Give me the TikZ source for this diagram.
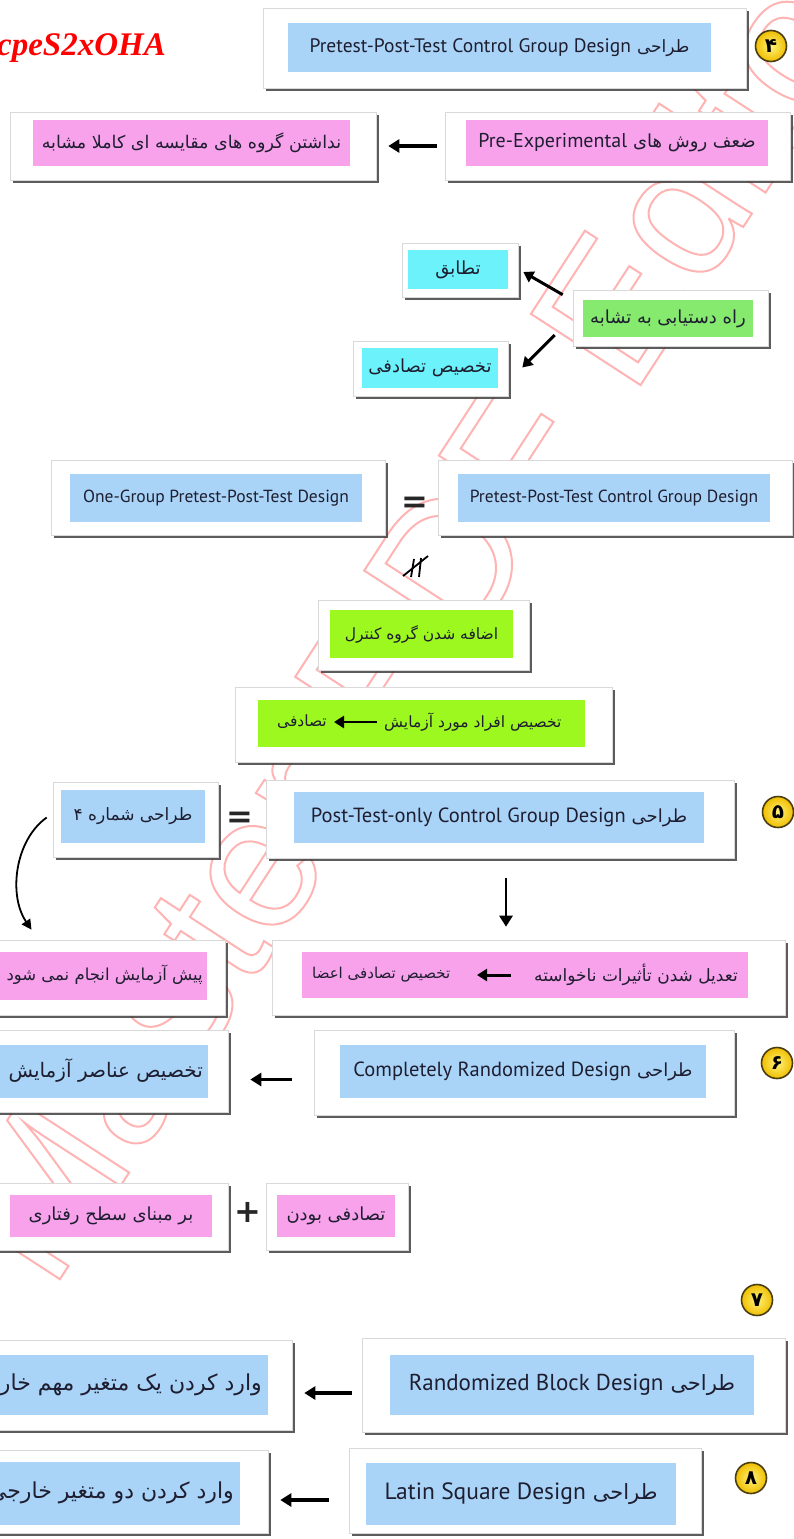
\documentclass[tikz,border=0pt]{standalone}
\usepackage{fontspec}
\usetikzlibrary{fit,shadows,arrows.meta,calc}
\TeXXeTstate=1
\setmainfont{PT Sans}
\newfontfamily\fa[Script=Arabic]{DejaVu Sans}
\newfontfamily\lat{PT Sans}
\newfontfamily\redserif{Liberation Serif}
\newfontfamily\wmfont{Liberation Sans}
\newfontfamily\symf{DejaVu Sans}
\newcommand\fsz[1]{\fontsize{#1}{#1}\selectfont}
\newcommand\outlinetext[1]{\special{pdf:literal direct 1 Tr 2 w}#1\special{pdf:literal direct 0 Tr}}
\definecolor{cblue}{HTML}{A9D4F8}
\definecolor{cpink}{HTML}{F8A2EC}
\definecolor{ccyan}{HTML}{6BF2FA}
\definecolor{cgreen}{HTML}{86EA6E}
\definecolor{clime}{HTML}{9CF81E}
\definecolor{cballin}{HTML}{FFF27A}
\definecolor{cballout}{HTML}{F0BE00}
\definecolor{cballedge}{HTML}{4A3E14}
\definecolor{ctext}{HTML}{1E1E30}
\definecolor{cwm}{HTML}{FFB4B4}
\tikzset{
  card/.style={fill=white, draw=black!15, line width=0.6pt, inner sep=0pt,
    drop shadow={shadow xshift=2.5pt, shadow yshift=-3pt, fill=black!75, opacity=0.85}},
  inbox/.style={draw=none, inner sep=0pt},
  lab/.style={inner sep=0pt, text=ctext},
  bigarrow/.style={line width=3.4pt, -{Triangle[length=11pt,width=13pt]}},
  midarrow/.style={line width=2.8pt, -{Triangle[length=10pt,width=12pt]}},
  thinarrow/.style={line width=1.8pt, -{Triangle[length=10pt,width=10pt]}},
  ball/.style={circle, minimum size=31pt, inner sep=0pt, draw=cballedge, line width=1.6pt,
    inner color=cballin, outer color=cballout, font=\symf\bfseries\fsz{20}, text=black},
  sign/.style={inner sep=0pt, font=\symf\bfseries\fsz{32}, text=black!85}
}
\begin{document}
\begin{tikzpicture}[x=1pt,y=-1pt]
\useasboundingbox (0,0) rectangle (794,1539);
\fill[white] (0,0) rectangle (794,1539);

% watermark (outline letters)
\node[rotate=57, inner sep=0pt, text=cwm, font=\wmfont\fsz{190}] (wm) at (420,600) {\outlinetext{Master PDF Editor}};

% red text
\node[anchor=east, inner sep=0pt, text=red, font=\redserif\bfseries\itshape\fsz{33}] (redtxt) at (166,48) {NcpeS2xOHA};

% ---- 4
\node[card, fit={(263,8) (746,88)}] (c1) {};
\node[inbox, fill=cblue, fit={(288,23) (711,72)}] (b1) {};
\node[lab] (t1) at (b1.center) {{\lat\fsz{19.5}Pretest-Post-Test Control Group Design}\hspace{6pt}{\fa\fsz{17}\beginR طراحی\endR}};
\node[ball] (n4) at (771,46) {۴};

\node[card, fit={(445,112) (790,180)}] (c2r) {};
\node[inbox, fill=cpink, fit={(466,120) (768,166)}] (b2r) {};
\node[lab] (t2r) at (b2r.center) {{\lat\fsz{20}Pre-Experimental}\hspace{6pt}{\fa\fsz{18}\beginR ضعف روش های\endR}};
\node[card, fit={(10,112) (376,180)}] (c2l) {};
\node[inbox, fill=cpink, fit={(33,120) (350,166)}] (b2l) {};
\node[lab] (t2l) at (b2l.center) {\fa\fsz{17.5}\beginR نداشتن گروه های مقایسه ای کاملا مشابه\endR};
\coordinate (a2) at ($(c2r.west)+(-8,0)$);
\draw[bigarrow, shorten >=12pt] (a2) -- (a2 -| c2l.east);

% ---- similarity
\node[card, fit={(402,243) (518,297)}] (ctab) {};
\node[inbox, fill=ccyan, fit={(408,250) (508,289)}] (btab) {};
\node[lab] (ttab) at (btab.center) {\fa\fsz{18}\beginR تطابق\endR};
\node[card, fit={(573,290) (768,346)}] (crah) {};
\node[inbox, fill=cgreen, fit={(583,300) (753,337)}] (brah) {};
\node[lab] (trah) at (brah.center) {\fa\fsz{18}\beginR راه دستیابی به تشابه\endR};
\node[card, fit={(353,341) (508,396)}] (ctak) {};
\node[inbox, fill=ccyan, fit={(362,348) (498,388)}] (btak) {};
\node[lab] (ttak) at (btak.center) {\fa\fsz{18}\beginR تخصیص تصادفی\endR};
\draw[midarrow, line width=3pt] ($(crah.north west)+(-10,5)$) -- ($(ctab.east)+(5,2)$);
\draw[midarrow, line width=3pt] ($(crah.west)+(-18,17)$) -- ($(ctak.east)+(14,-1)$);

% ---- equal row
\node[card, fit={(51,460) (385,535)}] (cone) {};
\node[inbox, fill=cblue, fit={(70,474) (362,522)}] (bone) {};
\node[lab] (tone) at (bone.center) {\lat\fsz{17.5}One-Group Pretest-Post-Test Design};
\node[card, fit={(438,460) (792,535)}] (cpre) {};
\node[inbox, fill=cblue, fit={(458,474) (770,522)}] (bpre) {};
\node[lab] (tpre) at (bpre.center) {\lat\fsz{17.5}Pretest-Post-Test Control Group Design};
\node[sign] (eq1) at (415,505) {=};
\coordinate (np) at (415,568);
\draw[line width=1.8pt] ($(np)+(-1,-9)$) -- ($(np)+(-4,9)$);
\draw[line width=1.8pt] ($(np)+(6,-10)$) -- ($(np)+(4,9)$);
\draw[line width=1.8pt] ($(np)+(-12,8)$) -- ($(np)+(13,-12)$);

\node[card, fit={(318,600) (529,670)}] (cadd) {};
\node[inbox, fill=clime, fit={(330,610) (513,658)}] (badd) {};
\node[lab] (tadd) at (badd.center) {\fa\fsz{15.5}\beginR اضافه شدن گروه کنترل\endR};
\node[card, fit={(235,687) (612,762)}] (cass) {};
\node[inbox, fill=clime, fit={(258,700) (585,747)}] (bass) {};
\node[lab, anchor=east] (tassl) at (327,722) {\fa\fsz{15.5}\beginR تصادفی\endR};
\node[lab, anchor=west] (tassr) at (384,722) {\fa\fsz{15.5}\beginR تخصیص افراد مورد آزمایش\endR};
\draw[midarrow, line width=2.6pt] ($(tassr.west)+(-7,0)$) -- ($(tassl.east)+(7,0)$);

% ---- 5
\node[card, fit={(266,780) (734,858)}] (cpost) {};
\node[inbox, fill=cblue, fit={(294,792) (704,843)}] (bpost) {};
\node[lab] (tpost) at (bpost.center) {{\lat\fsz{20.5}Post-Test-only Control Group Design}\hspace{6pt}{\fa\fsz{18}\beginR طراحی\endR}};
\node[ball] (n5) at (778,812) {۵};
\node[card, fit={(53,782) (218,857)}] (c4) {};
\node[inbox, fill=cblue, fit={(61,790) (205,843)}] (b4) {};
\node[lab] (t4) at (b4.center) {\fa\fsz{17}\beginR طراحی شماره ۴\endR};
\node[sign] (eq2) at (240,820) {=};

\node[card, fit={(272,940) (785,1015)}] (ctad) {};
\node[inbox, fill=cpink, fit={(302,952) (748,998)}] (btad) {};
\node[lab, anchor=west] (ttadl) at (312,975) {\fa\fsz{15}\beginR تخصیص تصادفی اعضا\endR};
\node[lab, anchor=east] (ttadr) at (738,975) {\fa\fsz{17}\beginR تعدیل شدن تأثیرات ناخواسته\endR};
\coordinate (ta1) at ($(ttadr.west)+(-23,0)$);
\draw[midarrow, line width=3pt] (ta1) -- (ta1 -| 477,0);
\coordinate (da1) at ($(cpost.south)+(6,20)$);
\draw[bigarrow, line width=2.8pt, shorten >=13pt] (da1) -- (da1 |- ctad.north);
\node[card, fit={(-10,940) (225,1015)}] (cpish) {};
\node[inbox, fill=cpink, fit={(-10,952) (207,1000)}] (bpish) {};
\node[lab, anchor=east] (tpish) at (203,975) {\fa\fsz{16.5}\beginR پیش آزمایش انجام نمی شود\endR};
\coordinate (cs) at ($(c4.west)+(-6,-2)$);
\coordinate (ce) at ($(cpish.north)+(-76,-10)$);
\draw[thinarrow] (cs) .. controls (15,840) and (8,895) .. (ce);

% ---- 6
\node[card, fit={(314,1030) (734,1115)}] (ccomp) {};
\node[inbox, fill=cblue, fit={(340,1045) (706,1098)}] (bcomp) {};
\node[lab] (tcomp) at (bcomp.center) {{\lat\fsz{20.5}Completely Randomized Design}\hspace{6pt}{\fa\fsz{18}\beginR طراحی\endR}};
\node[ball] (n6) at (777,1063) {۶};
\node[card, fit={(-10,1030) (228,1112)}] (ctakh) {};
\node[inbox, fill=cblue, fit={(-10,1045) (208,1098)}] (btakh) {};
\node[lab, anchor=east] (ttakh) at (203,1071) {\fa\fsz{20}\beginR تخصیص عناصر آزمایش\endR};
\coordinate (a6) at ($(ccomp.west)+(-22,7)$);
\draw[bigarrow, shorten >=22pt] (a6) -- (a6 -| ctakh.east);

\node[card, fit={(266,1183) (408,1250)}] (ctas) {};
\node[inbox, fill=cpink, fit={(277,1195) (395,1237)}] (btas) {};
\node[lab] (ttas) at (btas.center) {\fa\fsz{18}\beginR تصادفی بودن\endR};
\node[card, fit={(-10,1183) (228,1250)}] (cbar) {};
\node[inbox, fill=cpink, fit={(10,1195) (212,1237)}] (bbar) {};
\node[lab] (tbar) at (bbar.center) {\fa\fsz{18}\beginR بر مبنای سطح رفتاری\endR};
\node[sign] (plus) at (248,1212) {+};

% ---- 7
\node[ball] (n7) at (757,1300) {۷};
\node[card, fit={(362,1338) (785,1432)}] (crb) {};
\node[inbox, fill=cblue, fit={(390,1355) (754,1415)}] (brb) {};
\node[lab] (trb) at (brb.center) {{\lat\fsz{23}Randomized Block Design}\hspace{7pt}{\fa\fsz{21}\beginR طراحی\endR}};
\node[card, fit={(-10,1340) (292,1430)}] (cv1) {};
\node[inbox, fill=cblue, fit={(-10,1355) (268,1415)}] (bv1) {};
\node[lab, anchor=east] (tv1) at (262,1385) {\fa\fsz{22}\beginR وارد کردن یک متغیر مهم خارجی\endR};
\coordinate (a7) at ($(crb.west)+(-10,8)$);
\draw[bigarrow, shorten >=12pt] (a7) -- (a7 -| cv1.east);

% ---- 8
\node[ball] (n8) at (751,1478) {۸};
\node[card, fit={(349,1448) (701,1533)}] (cls) {};
\node[inbox, fill=cblue, fit={(366,1463) (676,1525)}] (bls) {};
\node[lab] (tls) at (bls.center) {{\lat\fsz{23.5}Latin Square Design}\hspace{7pt}{\fa\fsz{21}\beginR طراحی\endR}};
\node[card, fit={(-10,1450) (268,1533)}] (cv2) {};
\node[inbox, fill=cblue, fit={(-10,1462) (240,1525)}] (bv2) {};
\node[lab, anchor=east] (tv2) at (234,1493) {\fa\fsz{22}\beginR وارد کردن دو متغیر خارجی\endR};
\coordinate (a8) at ($(cls.west)+(-20,9.5)$);
\draw[bigarrow, shorten >=12pt] (a8) -- (a8 -| cv2.east);
\end{tikzpicture}
\end{document}
